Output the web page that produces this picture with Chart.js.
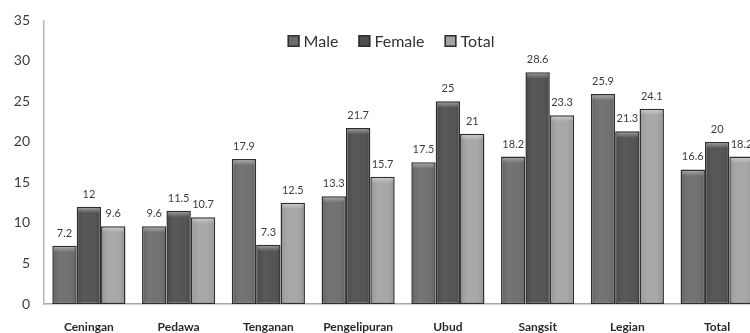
<!DOCTYPE html>
<html>
<head>
<meta charset="utf-8">
<script src="https://cdn.jsdelivr.net/npm/chart.js@4/dist/chart.umd.min.js"></script>
<style>
  html, body { margin: 0; padding: 0; background: #fff; overflow: hidden; }
  #wrap { position: relative; width: 764px; height: 333px; }
</style>
</head>
<body>
<div id="wrap"><canvas id="c"></canvas></div>
<script>
// Villages surveyed, plus the overall total
const categories = ['Ceningan', 'Pedawa', 'Tenganan', 'Pengelipuran', 'Ubud', 'Sangsit', 'Legian', 'Total'];
const seriesNames = ['Male', 'Female', 'Total'];
const maleValues   = [7.2, 9.6, 17.9, 13.3, 17.5, 18.2, 25.9, 16.6];
const femaleValues = [12, 11.5, 7.3, 21.7, 25, 28.6, 21.3, 20];
const totalValues  = [9.6, 10.7, 12.5, 15.7, 21, 23.3, 24.1, 18.2];
const yTicks = [0, 5, 10, 15, 20, 25, 30, 35];

const fills = ['#6c6c6c', '#4e4e4e', '#a4a4a4'];
const edge = '#2e2e2e';
const FONT = 'Lato, "Open Sans", sans-serif';

// Soft bevel: lighter band along the top edge and a gentle side shading
const bevel = {
  id: 'bevel',
  afterDatasetsDraw(chart) {
    const ctx = chart.ctx;
    chart.data.datasets.forEach((ds, di) => {
      chart.getDatasetMeta(di).data.forEach(bar => {
        const w = bar.width, left = bar.x - w / 2, top = bar.y, h = bar.base - bar.y;
        const b = 1.5;
        if (h <= 2 * b) return;
        ctx.save();
        const g = ctx.createLinearGradient(left, 0, left + w, 0);
        g.addColorStop(0, 'rgba(0,0,0,0.10)');
        g.addColorStop(0.35, 'rgba(255,255,255,0.06)');
        g.addColorStop(0.65, 'rgba(255,255,255,0.04)');
        g.addColorStop(1, 'rgba(0,0,0,0.14)');
        ctx.fillStyle = g;
        ctx.fillRect(left + b, top + b, w - 2 * b, h - 2 * b);
        const t = ctx.createLinearGradient(0, top + b, 0, top + b + 5);
        t.addColorStop(0, 'rgba(255,255,255,0.35)');
        t.addColorStop(1, 'rgba(255,255,255,0)');
        ctx.fillStyle = t;
        ctx.fillRect(left + b, top + b, w - 2 * b, 5);
        ctx.restore();
      });
    });
  }
};

// Value labels above each bar
const valueLabels = {
  id: 'valueLabels',
  afterDatasetsDraw(chart) {
    const ctx = chart.ctx;
    ctx.save();
    ctx.font = '11px ' + FONT;
    ctx.fillStyle = '#3c3c3c';
    ctx.textAlign = 'center';
    ctx.textBaseline = 'bottom';
    chart.data.datasets.forEach((ds, di) => {
      chart.getDatasetMeta(di).data.forEach((bar, i) => {
        ctx.fillText(String(ds.data[i]), bar.x, bar.y - 7);
      });
    });
    ctx.restore();
  }
};

// Legend drawn inside the plot, centred near the top
const innerLegend = {
  id: 'innerLegend',
  afterDraw(chart) {
    const ctx = chart.ctx;
    const box = 12, gap = 4, spacing = 20, cx = 391, cy = 41;
    ctx.save();
    ctx.font = '16px ' + FONT;
    ctx.textBaseline = 'middle';
    const widths = chart.data.datasets.map(ds => ctx.measureText(ds.label).width);
    const total = widths.reduce((s, w) => s + box + gap + w, 0) + spacing * (widths.length - 1);
    let x = cx - total / 2;
    chart.data.datasets.forEach((ds, i) => {
      ctx.fillStyle = ds.backgroundColor;
      ctx.fillRect(x, cy - box / 2, box, box);
      ctx.strokeStyle = edge;
      ctx.lineWidth = 1.5;
      ctx.strokeRect(x + 0.75, cy - box / 2 + 0.75, box - 1.5, box - 1.5);
      ctx.fillStyle = '#333';
      ctx.fillText(ds.label, x + box + gap, cy + 1);
      x += box + gap + widths[i] + spacing;
    });
    ctx.restore();
  }
};

const seriesValues = [maleValues, femaleValues, totalValues];

new Chart(document.getElementById('c'), {
  type: 'bar',
  data: {
    labels: categories,
    datasets: seriesNames.map((name, i) => ({
      label: name,
      data: seriesValues[i],
      backgroundColor: fills[i],
      borderColor: edge,
      borderWidth: 1.5,
      borderSkipped: false,
      categoryPercentage: 0.815,
      barPercentage: 1.0
    }))
  },
  options: {
    responsive: true,
    maintainAspectRatio: false,
    animation: false,
    events: [],
    layout: { padding: { left: 0, right: 2, top: 8, bottom: 0 } },
    plugins: { legend: { display: false }, tooltip: { enabled: false } },
    scales: {
      x: {
        afterFit(scale) { scale.height = 29; },
        grid: { display: false, drawTicks: false },
        border: { display: true, color: '#a8a8a8', width: 1.5 },
        ticks: {
          color: '#2a2a2a',
          font: { family: FONT, size: 12, weight: 'bold' },
          padding: 16,
          maxRotation: 0,
          autoSkip: false
        }
      },
      y: {
        min: 0,
        max: 35,
        afterBuildTicks(scale) { scale.ticks = yTicks.map(v => ({ value: v })); },
        afterFit(scale) { scale.width = 44; },
        grid: { display: false, drawTicks: false },
        border: { display: true, color: '#b8b8b8', width: 1.5 },
        ticks: {
          color: '#3c3c3c',
          font: { family: FONT, size: 14, lineHeight: 0.9 },
          padding: 14
        }
      }
    }
  },
  plugins: [bevel, valueLabels, innerLegend]
});
</script>
</body>
</html>
